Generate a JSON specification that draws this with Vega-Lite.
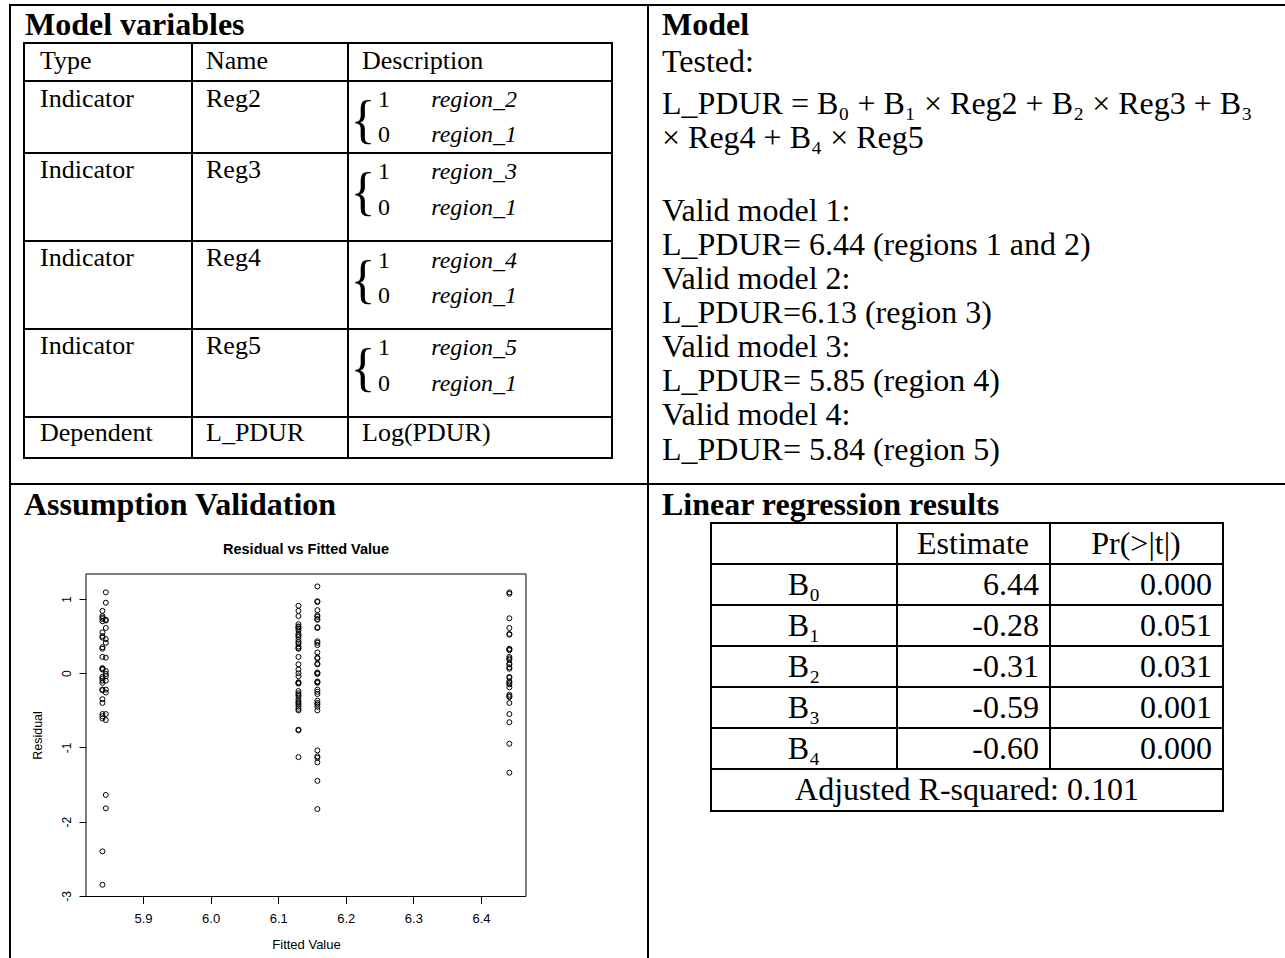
{
  "$schema": "https://vega.github.io/schema/vega-lite/v6.json",
  "width": 1285,
  "height": 958,
  "autosize": {"type": "none"},
  "padding": 0,
  "background": "white",
  "config": {
    "view": {"stroke": null},
    "locale": {"number": {"decimal": ".", "thousands": ",", "grouping": [3], "currency": ["$", ""], "minus": "-"}},
    "axis": {"grid": false, "domain": false, "tickColor": "black", "labelColor": "black", "titleColor": "black", "labelFont": "Liberation Sans", "titleFont": "Liberation Sans", "titleFontWeight": "normal"}
  },
  "resolve": {"scale": {"x": "independent", "y": "independent"}},
  "datasets": {
    "rules": [
      {"x1": 10, "y1": 5, "x2": 1285, "y2": 5},
      {"x1": 10, "y1": 5, "x2": 10, "y2": 958},
      {"x1": 648, "y1": 5, "x2": 648, "y2": 958},
      {"x1": 10, "y1": 484, "x2": 1285, "y2": 484},
      {"x1": 24, "y1": 43, "x2": 612, "y2": 43},
      {"x1": 24, "y1": 81, "x2": 612, "y2": 81},
      {"x1": 24, "y1": 153, "x2": 612, "y2": 153},
      {"x1": 24, "y1": 241, "x2": 612, "y2": 241},
      {"x1": 24, "y1": 329, "x2": 612, "y2": 329},
      {"x1": 24, "y1": 417, "x2": 612, "y2": 417},
      {"x1": 24, "y1": 458, "x2": 612, "y2": 458},
      {"x1": 24, "y1": 43, "x2": 24, "y2": 458},
      {"x1": 192, "y1": 43, "x2": 192, "y2": 458},
      {"x1": 348, "y1": 43, "x2": 348, "y2": 458},
      {"x1": 612, "y1": 43, "x2": 612, "y2": 458},
      {"x1": 711, "y1": 523, "x2": 1223, "y2": 523},
      {"x1": 711, "y1": 564, "x2": 1223, "y2": 564},
      {"x1": 711, "y1": 605, "x2": 1223, "y2": 605},
      {"x1": 711, "y1": 646, "x2": 1223, "y2": 646},
      {"x1": 711, "y1": 687, "x2": 1223, "y2": 687},
      {"x1": 711, "y1": 728, "x2": 1223, "y2": 728},
      {"x1": 711, "y1": 769, "x2": 1223, "y2": 769},
      {"x1": 711, "y1": 811, "x2": 1223, "y2": 811},
      {"x1": 711, "y1": 523, "x2": 711, "y2": 811},
      {"x1": 1223, "y1": 523, "x2": 1223, "y2": 811},
      {"x1": 897, "y1": 523, "x2": 897, "y2": 769},
      {"x1": 1050, "y1": 523, "x2": 1050, "y2": 769}
    ],
    "headings": [
      {"t": "Model variables", "x": 25, "y": 35},
      {"t": "Model", "x": 662, "y": 35},
      {"t": "Assumption Validation", "x": 24, "y": 515},
      {"t": "Linear regression results", "x": 662, "y": 515}
    ],
    "modelText": [
      {"t": "Tested:", "x": 662, "y": 72},
      {"t": "L_PDUR = B₀ + B₁ × Reg2 + B₂ × Reg3 + B₃", "x": 662, "y": 114},
      {"t": "× Reg4 + B₄ × Reg5", "x": 662, "y": 148},
      {"t": "Valid model 1:", "x": 662, "y": 221},
      {"t": "L_PDUR= 6.44 (regions 1 and 2)", "x": 662, "y": 255},
      {"t": "Valid model 2:", "x": 662, "y": 289},
      {"t": "L_PDUR=6.13 (region 3)", "x": 662, "y": 323},
      {"t": "Valid model 3:", "x": 662, "y": 357},
      {"t": "L_PDUR= 5.85 (region 4)", "x": 662, "y": 391},
      {"t": "Valid model 4:", "x": 662, "y": 425},
      {"t": "L_PDUR= 5.84 (region 5)", "x": 662, "y": 460}
    ],
    "varTable": [
      {"t": "Type", "x": 40, "y": 69},
      {"t": "Name", "x": 206, "y": 69},
      {"t": "Description", "x": 362, "y": 69},
      {"t": "Indicator", "x": 40, "y": 107},
      {"t": "Reg2", "x": 206, "y": 107},
      {"t": "Indicator", "x": 40, "y": 178},
      {"t": "Reg3", "x": 206, "y": 178},
      {"t": "Indicator", "x": 40, "y": 266},
      {"t": "Reg4", "x": 206, "y": 266},
      {"t": "Indicator", "x": 40, "y": 354},
      {"t": "Reg5", "x": 206, "y": 354},
      {"t": "Dependent", "x": 40, "y": 441},
      {"t": "L_PDUR", "x": 206, "y": 441},
      {"t": "Log(PDUR)", "x": 362, "y": 441}
    ],
    "descDigits": [
      {"t": "1", "x": 378, "y": 107}, {"t": "0", "x": 378, "y": 142},
      {"t": "1", "x": 378, "y": 179}, {"t": "0", "x": 378, "y": 215},
      {"t": "1", "x": 378, "y": 268}, {"t": "0", "x": 378, "y": 303},
      {"t": "1", "x": 378, "y": 355}, {"t": "0", "x": 378, "y": 391}
    ],
    "descRegions": [
      {"t": "region_2", "x": 517, "y": 107}, {"t": "region_1", "x": 517, "y": 142},
      {"t": "region_3", "x": 517, "y": 179}, {"t": "region_1", "x": 517, "y": 215},
      {"t": "region_4", "x": 517, "y": 268}, {"t": "region_1", "x": 517, "y": 303},
      {"t": "region_5", "x": 517, "y": 355}, {"t": "region_1", "x": 517, "y": 391}
    ],
    "braces": [
      {"t": "{", "x": 363, "y": 121},
      {"t": "{", "x": 363, "y": 193},
      {"t": "{", "x": 363, "y": 281},
      {"t": "{", "x": 363, "y": 369}
    ],
    "regression": [
      {"param": "B₀", "estimate": 6.44, "p": 0.000},
      {"param": "B₁", "estimate": -0.28, "p": 0.051},
      {"param": "B₂", "estimate": -0.31, "p": 0.031},
      {"param": "B₃", "estimate": -0.59, "p": 0.001},
      {"param": "B₄", "estimate": -0.60, "p": 0.000}
    ],
    "regHeader": [
      {"param": "hdr", "t": "Estimate", "x": 973},
      {"param": "hdr", "t": "Pr(>|t|)", "x": 1136},
      {"param": "adj", "t": "Adjusted R-squared: 0.101", "x": 967}
    ],
    "frame": [{"x1": 86, "y1": 574, "x2": 526, "y2": 896.5}],
    "plotTitle": [{"t": "Residual vs Fitted Value", "x": 306, "y": 554}],
    "residuals": [
      {"region": 1, "fitted": 6.442, "residual": 1.09}, {"region": 1, "fitted": 6.442, "residual": 1.07},
      {"region": 1, "fitted": 6.442, "residual": 0.74}, {"region": 1, "fitted": 6.442, "residual": 0.61},
      {"region": 1, "fitted": 6.442, "residual": 0.52}, {"region": 1, "fitted": 6.442, "residual": 0.53},
      {"region": 1, "fitted": 6.442, "residual": 0.33}, {"region": 1, "fitted": 6.442, "residual": 0.31},
      {"region": 1, "fitted": 6.442, "residual": 0.32}, {"region": 1, "fitted": 6.442, "residual": 0.22},
      {"region": 1, "fitted": 6.442, "residual": 0.18}, {"region": 1, "fitted": 6.442, "residual": 0.20},
      {"region": 1, "fitted": 6.442, "residual": 0.12}, {"region": 1, "fitted": 6.442, "residual": 0.13},
      {"region": 1, "fitted": 6.442, "residual": 0.08}, {"region": 1, "fitted": 6.442, "residual": 0.06},
      {"region": 1, "fitted": 6.442, "residual": -0.05}, {"region": 1, "fitted": 6.442, "residual": -0.06},
      {"region": 1, "fitted": 6.442, "residual": -0.11}, {"region": 1, "fitted": 6.442, "residual": -0.13},
      {"region": 1, "fitted": 6.442, "residual": -0.15}, {"region": 1, "fitted": 6.442, "residual": -0.19},
      {"region": 1, "fitted": 6.442, "residual": -0.29}, {"region": 1, "fitted": 6.442, "residual": -0.31},
      {"region": 1, "fitted": 6.442, "residual": -0.32}, {"region": 1, "fitted": 6.442, "residual": -0.40},
      {"region": 1, "fitted": 6.442, "residual": -0.55}, {"region": 1, "fitted": 6.442, "residual": -0.66},
      {"region": 1, "fitted": 6.442, "residual": -0.95}, {"region": 1, "fitted": 6.442, "residual": -1.34},
      {"region": 2, "fitted": 6.158, "residual": 1.17}, {"region": 2, "fitted": 6.158, "residual": 0.97},
      {"region": 2, "fitted": 6.158, "residual": 0.96}, {"region": 2, "fitted": 6.158, "residual": 0.85},
      {"region": 2, "fitted": 6.158, "residual": 0.78}, {"region": 2, "fitted": 6.158, "residual": 0.76},
      {"region": 2, "fitted": 6.158, "residual": 0.73}, {"region": 2, "fitted": 6.158, "residual": 0.72},
      {"region": 2, "fitted": 6.158, "residual": 0.62}, {"region": 2, "fitted": 6.158, "residual": 0.61},
      {"region": 2, "fitted": 6.158, "residual": 0.43}, {"region": 2, "fitted": 6.158, "residual": 0.41},
      {"region": 2, "fitted": 6.158, "residual": 0.38}, {"region": 2, "fitted": 6.158, "residual": 0.28},
      {"region": 2, "fitted": 6.158, "residual": 0.21}, {"region": 2, "fitted": 6.158, "residual": 0.20},
      {"region": 2, "fitted": 6.158, "residual": 0.13}, {"region": 2, "fitted": 6.158, "residual": 0.12},
      {"region": 2, "fitted": 6.158, "residual": 0.01}, {"region": 2, "fitted": 6.158, "residual": 0.0},
      {"region": 2, "fitted": 6.158, "residual": -0.01}, {"region": 2, "fitted": 6.158, "residual": -0.11},
      {"region": 2, "fitted": 6.158, "residual": -0.12}, {"region": 2, "fitted": 6.158, "residual": -0.13},
      {"region": 2, "fitted": 6.158, "residual": -0.22}, {"region": 2, "fitted": 6.158, "residual": -0.25},
      {"region": 2, "fitted": 6.158, "residual": -0.28}, {"region": 2, "fitted": 6.158, "residual": -0.37},
      {"region": 2, "fitted": 6.158, "residual": -0.40}, {"region": 2, "fitted": 6.158, "residual": -0.42},
      {"region": 2, "fitted": 6.158, "residual": -0.45}, {"region": 2, "fitted": 6.158, "residual": -0.50},
      {"region": 2, "fitted": 6.158, "residual": -1.04}, {"region": 2, "fitted": 6.158, "residual": -1.12},
      {"region": 2, "fitted": 6.158, "residual": -1.14}, {"region": 2, "fitted": 6.158, "residual": -1.20},
      {"region": 2, "fitted": 6.158, "residual": -1.45}, {"region": 2, "fitted": 6.158, "residual": -1.83},
      {"region": 3, "fitted": 6.13, "residual": 0.91}, {"region": 3, "fitted": 6.13, "residual": 0.84},
      {"region": 3, "fitted": 6.13, "residual": 0.77}, {"region": 3, "fitted": 6.13, "residual": 0.66},
      {"region": 3, "fitted": 6.13, "residual": 0.63}, {"region": 3, "fitted": 6.13, "residual": 0.62},
      {"region": 3, "fitted": 6.13, "residual": 0.60}, {"region": 3, "fitted": 6.13, "residual": 0.58},
      {"region": 3, "fitted": 6.13, "residual": 0.53}, {"region": 3, "fitted": 6.13, "residual": 0.51},
      {"region": 3, "fitted": 6.13, "residual": 0.49}, {"region": 3, "fitted": 6.13, "residual": 0.45},
      {"region": 3, "fitted": 6.13, "residual": 0.42}, {"region": 3, "fitted": 6.13, "residual": 0.40},
      {"region": 3, "fitted": 6.13, "residual": 0.36}, {"region": 3, "fitted": 6.13, "residual": 0.34},
      {"region": 3, "fitted": 6.13, "residual": 0.33}, {"region": 3, "fitted": 6.13, "residual": 0.22},
      {"region": 3, "fitted": 6.13, "residual": 0.12}, {"region": 3, "fitted": 6.13, "residual": 0.05},
      {"region": 3, "fitted": 6.13, "residual": 0.0}, {"region": 3, "fitted": 6.13, "residual": -0.04},
      {"region": 3, "fitted": 6.13, "residual": -0.12}, {"region": 3, "fitted": 6.13, "residual": -0.13},
      {"region": 3, "fitted": 6.13, "residual": -0.14}, {"region": 3, "fitted": 6.13, "residual": -0.24},
      {"region": 3, "fitted": 6.13, "residual": -0.27}, {"region": 3, "fitted": 6.13, "residual": -0.29},
      {"region": 3, "fitted": 6.13, "residual": -0.31}, {"region": 3, "fitted": 6.13, "residual": -0.35},
      {"region": 3, "fitted": 6.13, "residual": -0.38}, {"region": 3, "fitted": 6.13, "residual": -0.40},
      {"region": 3, "fitted": 6.13, "residual": -0.42}, {"region": 3, "fitted": 6.13, "residual": -0.45},
      {"region": 3, "fitted": 6.13, "residual": -0.48}, {"region": 3, "fitted": 6.13, "residual": -0.50},
      {"region": 3, "fitted": 6.13, "residual": -0.76}, {"region": 3, "fitted": 6.13, "residual": -0.77},
      {"region": 3, "fitted": 6.13, "residual": -1.13},
      {"region": 4, "fitted": 5.845, "residual": 1.09}, {"region": 4, "fitted": 5.845, "residual": 0.95},
      {"region": 4, "fitted": 5.845, "residual": 0.72}, {"region": 4, "fitted": 5.845, "residual": 0.71},
      {"region": 4, "fitted": 5.845, "residual": 0.61}, {"region": 4, "fitted": 5.845, "residual": 0.46},
      {"region": 4, "fitted": 5.845, "residual": 0.41}, {"region": 4, "fitted": 5.845, "residual": 0.21},
      {"region": 4, "fitted": 5.845, "residual": 0.03}, {"region": 4, "fitted": 5.845, "residual": -0.01},
      {"region": 4, "fitted": 5.845, "residual": -0.04}, {"region": 4, "fitted": 5.845, "residual": -0.10},
      {"region": 4, "fitted": 5.845, "residual": -0.22}, {"region": 4, "fitted": 5.845, "residual": -0.26},
      {"region": 4, "fitted": 5.845, "residual": -0.55}, {"region": 4, "fitted": 5.845, "residual": -0.63},
      {"region": 4, "fitted": 5.845, "residual": -1.64}, {"region": 4, "fitted": 5.845, "residual": -1.82},
      {"region": 5, "fitted": 5.84, "residual": 0.84}, {"region": 5, "fitted": 5.84, "residual": 0.77},
      {"region": 5, "fitted": 5.84, "residual": 0.75}, {"region": 5, "fitted": 5.84, "residual": 0.73},
      {"region": 5, "fitted": 5.84, "residual": 0.70}, {"region": 5, "fitted": 5.84, "residual": 0.55},
      {"region": 5, "fitted": 5.84, "residual": 0.50}, {"region": 5, "fitted": 5.84, "residual": 0.48},
      {"region": 5, "fitted": 5.84, "residual": 0.35}, {"region": 5, "fitted": 5.84, "residual": 0.33},
      {"region": 5, "fitted": 5.84, "residual": 0.22}, {"region": 5, "fitted": 5.84, "residual": 0.07},
      {"region": 5, "fitted": 5.84, "residual": 0.06}, {"region": 5, "fitted": 5.84, "residual": 0.05},
      {"region": 5, "fitted": 5.84, "residual": -0.05}, {"region": 5, "fitted": 5.84, "residual": -0.07},
      {"region": 5, "fitted": 5.84, "residual": -0.10}, {"region": 5, "fitted": 5.84, "residual": -0.13},
      {"region": 5, "fitted": 5.84, "residual": -0.22}, {"region": 5, "fitted": 5.84, "residual": -0.23},
      {"region": 5, "fitted": 5.84, "residual": -0.35}, {"region": 5, "fitted": 5.84, "residual": -0.40},
      {"region": 5, "fitted": 5.84, "residual": -0.55}, {"region": 5, "fitted": 5.84, "residual": -0.58},
      {"region": 5, "fitted": 5.84, "residual": -0.61}, {"region": 5, "fitted": 5.84, "residual": -2.40},
      {"region": 5, "fitted": 5.84, "residual": -2.85}
    ]
  },
  "layer": [
    {
      "data": {"name": "rules"},
      "mark": {"type": "rule", "stroke": "black", "strokeWidth": 2, "strokeCap": "square"},
      "encoding": {
        "x": {"field": "x1", "type": "quantitative", "scale": {"domain": [0, 1285], "range": [0, 1285], "nice": false, "zero": false}, "axis": null},
        "x2": {"field": "x2"},
        "y": {"field": "y1", "type": "quantitative", "scale": {"domain": [0, 958], "range": [0, 958], "nice": false, "zero": false}, "axis": null},
        "y2": {"field": "y2"}
      }
    },
    {
      "data": {"name": "headings"},
      "mark": {"type": "text", "font": "Liberation Serif", "fontSize": 32, "fontWeight": "bold", "align": "left", "baseline": "alphabetic", "color": "black"},
      "encoding": {
        "x": {"field": "x", "type": "quantitative", "scale": {"domain": [0, 1285], "range": [0, 1285], "nice": false, "zero": false}, "axis": null},
        "y": {"field": "y", "type": "quantitative", "scale": {"domain": [0, 958], "range": [0, 958], "nice": false, "zero": false}, "axis": null},
        "text": {"field": "t"}
      }
    },
    {
      "data": {"name": "modelText"},
      "mark": {"type": "text", "font": "Liberation Serif", "fontSize": 32, "align": "left", "baseline": "alphabetic", "color": "black"},
      "encoding": {
        "x": {"field": "x", "type": "quantitative", "scale": {"domain": [0, 1285], "range": [0, 1285], "nice": false, "zero": false}, "axis": null},
        "y": {"field": "y", "type": "quantitative", "scale": {"domain": [0, 958], "range": [0, 958], "nice": false, "zero": false}, "axis": null},
        "text": {"field": "t"}
      }
    },
    {
      "data": {"name": "varTable"},
      "mark": {"type": "text", "font": "Liberation Serif", "fontSize": 26, "align": "left", "baseline": "alphabetic", "color": "black"},
      "encoding": {
        "x": {"field": "x", "type": "quantitative", "scale": {"domain": [0, 1285], "range": [0, 1285], "nice": false, "zero": false}, "axis": null},
        "y": {"field": "y", "type": "quantitative", "scale": {"domain": [0, 958], "range": [0, 958], "nice": false, "zero": false}, "axis": null},
        "text": {"field": "t"}
      }
    },
    {
      "data": {"name": "descDigits"},
      "mark": {"type": "text", "font": "Liberation Serif", "fontSize": 24, "align": "left", "baseline": "alphabetic", "color": "black"},
      "encoding": {
        "x": {"field": "x", "type": "quantitative", "scale": {"domain": [0, 1285], "range": [0, 1285], "nice": false, "zero": false}, "axis": null},
        "y": {"field": "y", "type": "quantitative", "scale": {"domain": [0, 958], "range": [0, 958], "nice": false, "zero": false}, "axis": null},
        "text": {"field": "t"}
      }
    },
    {
      "data": {"name": "descRegions"},
      "mark": {"type": "text", "font": "Liberation Serif", "fontSize": 24, "fontStyle": "italic", "align": "right", "baseline": "alphabetic", "color": "black"},
      "encoding": {
        "x": {"field": "x", "type": "quantitative", "scale": {"domain": [0, 1285], "range": [0, 1285], "nice": false, "zero": false}, "axis": null},
        "y": {"field": "y", "type": "quantitative", "scale": {"domain": [0, 958], "range": [0, 958], "nice": false, "zero": false}, "axis": null},
        "text": {"field": "t"}
      }
    },
    {
      "data": {"name": "braces"},
      "mark": {"type": "text", "font": "Liberation Serif", "fontSize": 52, "align": "center", "baseline": "middle", "color": "black"},
      "encoding": {
        "x": {"field": "x", "type": "quantitative", "scale": {"domain": [0, 1285], "range": [0, 1285], "nice": false, "zero": false}, "axis": null},
        "y": {"field": "y", "type": "quantitative", "scale": {"domain": [0, 958], "range": [0, 958], "nice": false, "zero": false}, "axis": null},
        "text": {"field": "t"}
      }
    },
    {
      "data": {"name": "regression"},
      "mark": {"type": "text", "font": "Liberation Serif", "fontSize": 32, "align": "center", "baseline": "middle", "color": "black"},
      "encoding": {
        "x": {"datum": 804, "type": "quantitative", "scale": {"domain": [0, 1285], "range": [0, 1285], "nice": false, "zero": false}, "axis": null},
        "y": {"field": "param", "type": "nominal", "sort": null, "scale": {"type": "band", "domain": ["hdr", "B₀", "B₁", "B₂", "B₃", "B₄", "adj"], "range": [523, 811], "paddingInner": 0, "paddingOuter": 0}, "axis": null},
        "text": {"field": "param"}
      }
    },
    {
      "data": {"name": "regression"},
      "mark": {"type": "text", "font": "Liberation Serif", "fontSize": 32, "align": "right", "baseline": "middle", "color": "black"},
      "encoding": {
        "x": {"datum": 1039, "type": "quantitative", "scale": {"domain": [0, 1285], "range": [0, 1285], "nice": false, "zero": false}, "axis": null},
        "y": {"field": "param", "type": "nominal", "sort": null, "scale": {"type": "band", "domain": ["hdr", "B₀", "B₁", "B₂", "B₃", "B₄", "adj"], "range": [523, 811], "paddingInner": 0, "paddingOuter": 0}, "axis": null},
        "text": {"field": "estimate", "type": "quantitative", "format": ".2f"}
      }
    },
    {
      "data": {"name": "regression"},
      "mark": {"type": "text", "font": "Liberation Serif", "fontSize": 32, "align": "right", "baseline": "middle", "color": "black"},
      "encoding": {
        "x": {"datum": 1212, "type": "quantitative", "scale": {"domain": [0, 1285], "range": [0, 1285], "nice": false, "zero": false}, "axis": null},
        "y": {"field": "param", "type": "nominal", "sort": null, "scale": {"type": "band", "domain": ["hdr", "B₀", "B₁", "B₂", "B₃", "B₄", "adj"], "range": [523, 811], "paddingInner": 0, "paddingOuter": 0}, "axis": null},
        "text": {"field": "p", "type": "quantitative", "format": ".3f"}
      }
    },
    {
      "data": {"name": "regHeader"},
      "mark": {"type": "text", "font": "Liberation Serif", "fontSize": 32, "align": "center", "baseline": "middle", "color": "black"},
      "encoding": {
        "x": {"field": "x", "type": "quantitative", "scale": {"domain": [0, 1285], "range": [0, 1285], "nice": false, "zero": false}, "axis": null},
        "y": {"field": "param", "type": "nominal", "sort": null, "scale": {"type": "band", "domain": ["hdr", "B₀", "B₁", "B₂", "B₃", "B₄", "adj"], "range": [523, 811], "paddingInner": 0, "paddingOuter": 0}, "axis": null},
        "text": {"field": "t"}
      }
    },
    {
      "data": {"name": "frame"},
      "mark": {"type": "rect", "filled": false, "stroke": "black", "strokeWidth": 1},
      "encoding": {
        "x": {"field": "x1", "type": "quantitative", "scale": {"domain": [0, 1285], "range": [0, 1285], "nice": false, "zero": false}, "axis": null},
        "x2": {"field": "x2"},
        "y": {"field": "y1", "type": "quantitative", "scale": {"domain": [0, 958], "range": [0, 958], "nice": false, "zero": false}, "axis": null},
        "y2": {"field": "y2"}
      }
    },
    {
      "data": {"name": "plotTitle"},
      "mark": {"type": "text", "font": "Liberation Sans", "fontSize": 14.5, "fontWeight": "bold", "align": "center", "baseline": "alphabetic", "color": "black"},
      "encoding": {
        "x": {"field": "x", "type": "quantitative", "scale": {"domain": [0, 1285], "range": [0, 1285], "nice": false, "zero": false}, "axis": null},
        "y": {"field": "y", "type": "quantitative", "scale": {"domain": [0, 958], "range": [0, 958], "nice": false, "zero": false}, "axis": null},
        "text": {"field": "t"}
      }
    },
    {
      "data": {"name": "residuals"},
      "mark": {"type": "point", "shape": "circle", "filled": false, "size": 25, "strokeWidth": 1, "color": "black", "opacity": 1},
      "encoding": {
        "x": {
          "field": "fitted", "type": "quantitative",
          "scale": {"domain": [5.8157, 6.4666], "range": [86, 526], "nice": false, "zero": false},
          "axis": {"orient": "bottom", "offset": -61.5, "values": [5.9, 6.0, 6.1, 6.2, 6.3, 6.4], "format": ".1f", "tickSize": 7, "tickWidth": 1, "labelPadding": 9, "labelFontSize": 13, "labelFlush": false, "labelOverlap": false, "title": "Fitted Value", "titleFontSize": 13, "titleX": 306, "titleY": 51.5, "titleAlign": "center", "titleBaseline": "alphabetic"}
        },
        "y": {
          "field": "residual", "type": "quantitative",
          "scale": {"domain": [-3.008, 1.337], "range": [896.5, 574], "nice": false, "zero": false},
          "axis": {"orient": "left", "offset": -86, "values": [-3, -2, -1, 0, 1], "format": "d", "tickSize": 7, "tickWidth": 1, "labelAngle": 270, "labelAlign": "center", "labelBaseline": "bottom", "labelPadding": 6, "labelFontSize": 12, "labelOverlap": false, "title": "Residual", "titleFontSize": 12.5, "titleAngle": 270, "titleX": -45, "titleY": 735, "titleAlign": "center", "titleBaseline": "alphabetic"}
        }
      }
    }
  ]
}
